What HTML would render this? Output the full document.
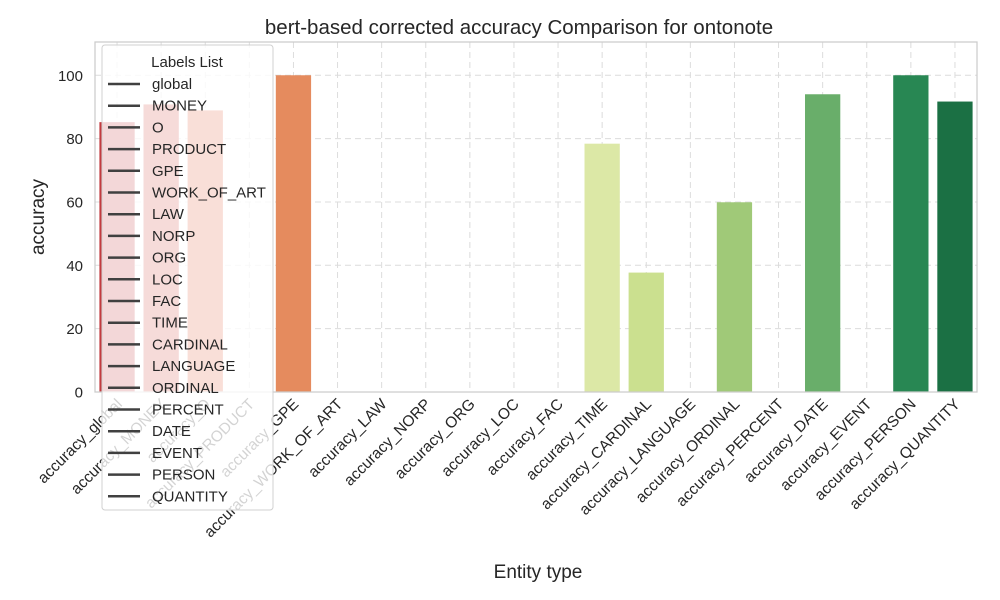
<!DOCTYPE html>
<html><head><meta charset="utf-8"><style>
body{margin:0;background:#fff;}
svg{display:block;font-family:"Liberation Sans",Arial,sans-serif;}
</style></head><body>
<svg id="chart" width="1000" height="600" viewBox="0 0 1000 600">
<rect width="1000" height="600" fill="#fff"/>
<text x="519" y="34" font-size="20.5" text-anchor="middle" fill="#262626">bert-based corrected accuracy Comparison for ontonote</text>
<g id="grid"></g><g id="bars"></g><g id="axes"></g><g id="legend"></g>
<text x="538" y="578" font-size="19" text-anchor="middle" fill="#262626">Entity type</text>
<text transform="translate(44,217) rotate(-90)" font-size="19" text-anchor="middle" fill="#262626">accuracy</text>
</svg>
<script>
const categories=["global","MONEY","O","PRODUCT","GPE","WORK_OF_ART","LAW","NORP","ORG","LOC","FAC","TIME","CARDINAL","LANGUAGE","ORDINAL","PERCENT","DATE","EVENT","PERSON","QUANTITY"];
const values=[85.2,90.8,88.9,0,100,0,0,0,0,0,0,78.4,37.7,0,59.9,0,94,0,100,91.7];
const colors=["#c23b3f","#d24b40","#e0603f","#ea7346","#e58b5e","#f7a660","#fbbd6f","#fdd081","#fee394","#fff3ac","#f7fab3","#dce8a6","#cbe08f","#b5d67c","#a0c978","#86bd6f","#69ae6a","#4a9d5e","#288753","#1b7044"];
const yTicks=[0,20,40,60,80,100];
const L=95,R=977,T=42,B=392,YMAX=110.5;
const step=(R-L)/categories.length;
const xC=i=>L+step*(i+0.5);
const yS=v=>B-(v/YMAX)*(B-T);
const NS="http://www.w3.org/2000/svg";
function mk(tag,attrs,parent){const e=document.createElementNS(NS,tag);for(const k in attrs)e.setAttribute(k,attrs[k]);parent.appendChild(e);return e;}
const grid=document.getElementById('grid'),bars=document.getElementById('bars'),axes=document.getElementById('axes'),leg=document.getElementById('legend');
yTicks.forEach(t=>{
 const l=mk('line',{x1:L,x2:R,y1:yS(t),y2:yS(t),stroke:'#dcdcdc','stroke-dasharray':'6,4','stroke-width':1},grid);
 
 
 const tx=mk('text',{x:L-12,y:yS(t)+5.5,'font-size':15,'text-anchor':'end',fill:'#262626'},axes);
 tx.textContent=t;
 
 
});
categories.forEach((c,i)=>{
 const g=mk('line',{x1:xC(i),x2:xC(i),y1:T,y2:B,stroke:'#dcdcdc','stroke-dasharray':'6,4'},grid);
 
 
 const bw=step*0.8;
 const r=mk('rect',{x:xC(i)-bw/2,y:yS(values[i]),width:bw,height:B-yS(values[i]),fill:colors[i]},bars);
 
 
 const tx=mk('text',{transform:`translate(${xC(i)+6},${B+13}) rotate(-45)`,'font-size':15.5,'text-anchor':'end',fill:'#262626'},axes);
 tx.textContent='accuracy_'+c;
 
 
});
const frame=mk('rect',{x:L,y:T,width:R-L,height:B-T,fill:'none',stroke:'#cccccc','stroke-width':1.25},axes);


const box=mk('rect',{x:102,y:45,width:171,height:465,rx:3,fill:'#ffffff','fill-opacity':0.8,stroke:'#d0d0d0'},leg);


const lt=mk('text',{x:187,y:67,'font-size':15,'text-anchor':'middle',fill:'#262626'},leg);
lt.textContent='Labels List';


categories.forEach((c,i)=>{
 const y=84+i*21.7;
 const ln=mk('line',{x1:108,x2:140,y1:y,y2:y,stroke:'#404040','stroke-width':2.5},leg);
 
 
 const t=mk('text',{x:152,y:y+5,'font-size':15,fill:'#262626'},leg);
 t.textContent=c;
 
 
});
</script>
</body></html>
